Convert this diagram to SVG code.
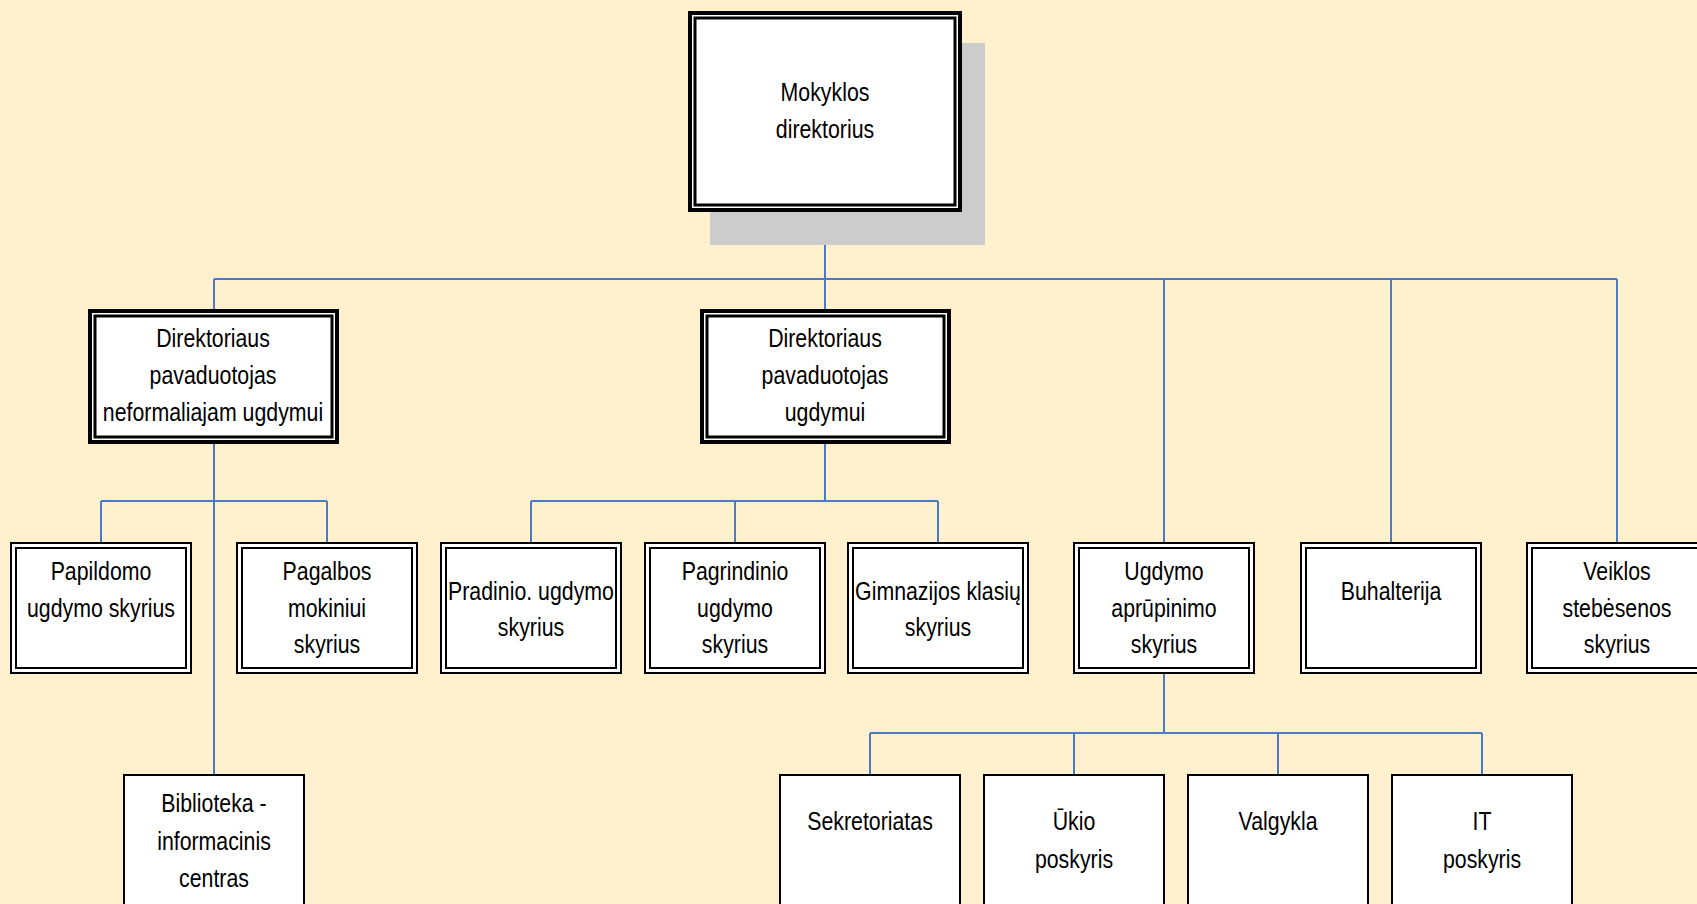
<svg xmlns="http://www.w3.org/2000/svg" width="1697" height="904" viewBox="0 0 1697 904">
<style>
.bg{fill:#FFF0CE}
.t{font-family:"Liberation Sans",Arial,sans-serif;font-size:26px;fill:#000;text-anchor:middle;transform-box:fill-box;transform-origin:center;transform:scaleX(0.82)}
.box{fill:#fff;stroke:#000}
.o4{stroke-width:4}
.i3{fill:none;stroke:#000;stroke-width:3}
.o2{stroke-width:2}
.i2{fill:none;stroke:#000;stroke-width:2}
.c{fill:none;stroke:#4A7AC8;stroke-width:2}
</style>
<rect class="bg" x="0" y="0" width="1697" height="904"/>
<g id="connectors">
<path class="c" d="M825 212V279M214 279H1617M214 279V309M825 279V309M1164 279V542M1391 279V542M1617 279V542"/>
<path class="c" d="M214 444V775M101 501H327M101 501V542M327 501V542"/>
<path class="c" d="M825 444V501M531 501H938M531 501V542M735 501V542M938 501V542"/>
<path class="c" d="M1164 674V733M870 733H1482M870 733V775M1074 733V775M1278 733V775M1482 733V775"/>
</g>
<g id="director">
<rect x="710" y="43" width="275" height="202" fill="#CCCCCC"/>
<rect class="box o4" x="690" y="13" width="270" height="197"/>
<rect class="i3" x="695" y="18" width="260" height="187"/>
<text class="t" x="825" y="101">Mokyklos</text>
<text class="t" x="825" y="138">direktorius</text>
</g>
<g id="deputy-nonformal">
<rect class="box o4" x="90" y="311" width="247" height="131"/>
<rect class="i3" x="95" y="316" width="237" height="121"/>
<text class="t" x="213" y="347">Direktoriaus</text>
<text class="t" x="213" y="384">pavaduotojas</text>
<text class="t" x="213" y="421">neformaliajam ugdymui</text>
</g>
<g id="deputy-education">
<rect class="box o4" x="702" y="311" width="247" height="131"/>
<rect class="i3" x="707" y="316" width="237" height="121"/>
<text class="t" x="825" y="347">Direktoriaus</text>
<text class="t" x="825" y="384">pavaduotojas</text>
<text class="t" x="825" y="421">ugdymui</text>
</g>
<g id="papildomo">
<rect class="box o2" x="11" y="543" width="180" height="130"/>
<rect class="i2" x="16" y="548" width="170" height="120"/>
<text class="t" x="101" y="580">Papildomo</text>
<text class="t" x="101" y="617">ugdymo skyrius</text>
</g>
<g id="pagalbos">
<rect class="box o2" x="237" y="543" width="180" height="130"/>
<rect class="i2" x="242" y="548" width="170" height="120"/>
<text class="t" x="327" y="580">Pagalbos</text>
<text class="t" x="327" y="617">mokiniui</text>
<text class="t" x="327" y="653">skyrius</text>
</g>
<g id="pradinio">
<rect class="box o2" x="441" y="543" width="180" height="130"/>
<rect class="i2" x="446" y="548" width="170" height="120"/>
<text class="t" x="531" y="600">Pradinio. ugdymo</text>
<text class="t" x="531" y="636">skyrius</text>
</g>
<g id="pagrindinio">
<rect class="box o2" x="645" y="543" width="180" height="130"/>
<rect class="i2" x="650" y="548" width="170" height="120"/>
<text class="t" x="735" y="580">Pagrindinio</text>
<text class="t" x="735" y="617">ugdymo</text>
<text class="t" x="735" y="653">skyrius</text>
</g>
<g id="gimnazijos">
<rect class="box o2" x="848" y="543" width="180" height="130"/>
<rect class="i2" x="853" y="548" width="170" height="120"/>
<text class="t" x="938" y="600">Gimnazijos klasių</text>
<text class="t" x="938" y="636">skyrius</text>
</g>
<g id="aprupinimo">
<rect class="box o2" x="1074" y="543" width="180" height="130"/>
<rect class="i2" x="1079" y="548" width="170" height="120"/>
<text class="t" x="1164" y="580">Ugdymo</text>
<text class="t" x="1164" y="617">aprūpinimo</text>
<text class="t" x="1164" y="653">skyrius</text>
</g>
<g id="buhalterija">
<rect class="box o2" x="1301" y="543" width="180" height="130"/>
<rect class="i2" x="1306" y="548" width="170" height="120"/>
<text class="t" x="1391" y="600">Buhalterija</text>
</g>
<g id="veiklos">
<rect class="box o2" x="1527" y="543" width="180" height="130"/>
<rect class="i2" x="1532" y="548" width="170" height="120"/>
<text class="t" x="1617" y="580">Veiklos</text>
<text class="t" x="1617" y="617">stebėsenos</text>
<text class="t" x="1617" y="653">skyrius</text>
</g>
<g id="biblioteka">
<rect class="box o2" x="124" y="775" width="180" height="140"/>
<text class="t" x="214" y="812">Biblioteka -</text>
<text class="t" x="214" y="850">informacinis</text>
<text class="t" x="214" y="887">centras</text>
</g>
<g id="sekretoriatas">
<rect class="box o2" x="780" y="775" width="180" height="140"/>
<text class="t" x="870" y="830">Sekretoriatas</text>
</g>
<g id="ukio">
<rect class="box o2" x="984" y="775" width="180" height="140"/>
<text class="t" x="1074" y="830">Ūkio</text>
<text class="t" x="1074" y="868">poskyris</text>
</g>
<g id="valgykla">
<rect class="box o2" x="1188" y="775" width="180" height="140"/>
<text class="t" x="1278" y="830">Valgykla</text>
</g>
<g id="it">
<rect class="box o2" x="1392" y="775" width="180" height="140"/>
<text class="t" x="1482" y="830">IT</text>
<text class="t" x="1482" y="868">poskyris</text>
</g>
</svg>
